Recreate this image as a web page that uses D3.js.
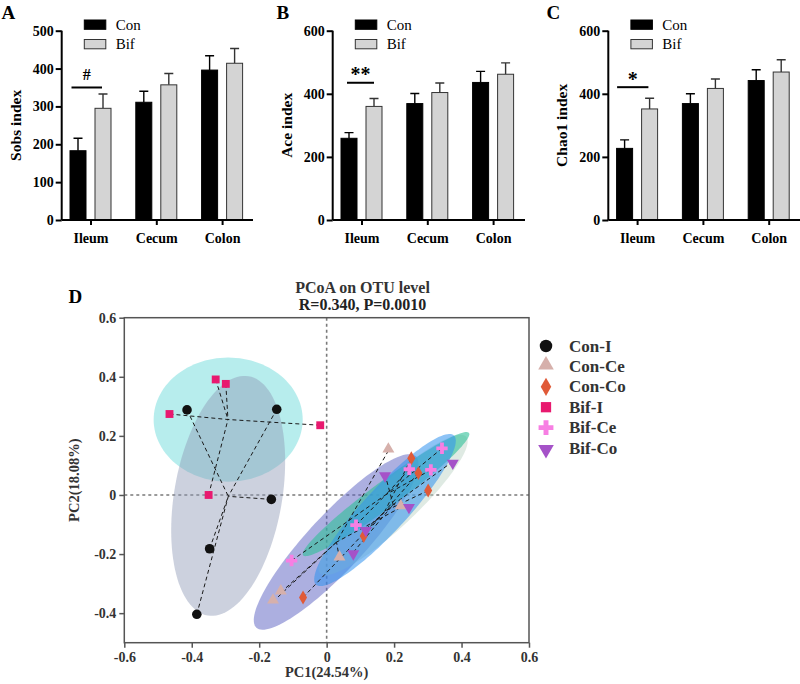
<!DOCTYPE html>
<html><head><meta charset="utf-8">
<script src="https://cdn.jsdelivr.net/npm/d3@7"></script>
<style>body{margin:0;background:#fff}svg{display:block}</style>
</head><body>
<svg id="c" width="800" height="684"></svg>
<script>
// ---------- DATA ----------
const categories = ["Ileum", "Cecum", "Colon"];
const barGroups = ["Con", "Bif"];
// Panel A: Sobs index
const sobsCon = [183, 311, 396];
const sobsConErr = [33, 29, 38];
const sobsBif = [295, 357, 414];
const sobsBifErr = [38, 30, 39];
const sobsTicks = [0, 100, 200, 300, 400, 500];
// Panel B: Ace index
const aceCon = [259, 369, 436];
const aceConErr = [18, 32, 35];
const aceBif = [360, 404, 462];
const aceBifErr = [25, 30, 36];
const aceTicks = [0, 200, 400, 600];
// Panel C: Chao1 index
const chaoCon = [227, 369, 442];
const chaoConErr = [27, 31, 34];
const chaoBif = [352, 417, 469];
const chaoBifErr = [34, 30, 39];
const chaoTicks = [0, 200, 400, 600];
// significance marks (Ileum), height in data units
const sigLabels = ["#", "**", "*"];
const sigLevels = [350, 435, 421];

// Panel D: PCoA
const pcoaGroups = ["Con-I", "Con-Ce", "Con-Co", "Bif-I", "Bif-Ce", "Bif-Co"];
const conI  = [[-0.414, 0.288], [-0.148, 0.290], [-0.164, -0.015], [-0.347, -0.182], [-0.385, -0.404]];
const conCe = [[0.183, 0.150], [0.220, -0.042], [0.038, -0.215], [-0.136, -0.330], [-0.159, -0.361]];
const conCo = [[0.251, 0.124], [0.272, 0.074], [0.301, 0.015], [0.110, -0.139], [-0.070, -0.347]];
const bifI  = [[-0.466, 0.274], [-0.329, 0.391], [-0.299, 0.376], [-0.019, 0.236], [-0.350, 0.000]];
const bifCe = [[0.342, 0.158], [0.245, 0.087], [0.309, 0.085], [0.087, -0.102], [-0.104, -0.222]];
const bifCo = [[0.374, 0.113], [0.173, 0.070], [0.244, -0.037], [0.116, -0.115], [0.079, -0.194]];
// ellipses: [cx, cy, ux, uy, vx, vy] (centre + two conjugate semi-axis vectors, data units)
const ellConI  = [-0.292, -0.003, 0.0607, 0.405, 0.1577, -0.0308];
const ellBifI  = [-0.292, 0.255, 0.221, 0, 0, 0.210];
const ellConCe = [0.028, -0.159, 0.2364, 0.290, 0.0607, -0.0647];
const ellBifCe = [0.176, 0.003, 0.246, 0.207, 0.0228, -0.0356];
const ellConCo = [0.173, -0.051, 0.2044, 0.2525, 0.0480, -0.0500];
const ellBifCo = [0.197, -0.034, 0.2166, 0.2312, 0.0444, -0.0546];
const pcoaTicks = [-0.6, -0.4, -0.2, 0, 0.2, 0.4, 0.6];
const pcoaYTicks = [-0.4, -0.2, 0, 0.2, 0.4, 0.6];

// ---------- DRAW ----------
const svg = d3.select("#c");
const FONT = "'Liberation Serif','Times New Roman',serif";

const panels = [
  {label: "A", title: "Sobs index", con: sobsCon, conErr: sobsConErr, bif: sobsBif, bifErr: sobsBifErr, ticks: sobsTicks,
   ax: 61.7, axEnd: 253, lx: 1.5, ly: 19.3, titleX: 21, sigL: -6.5, sigR: -1},
  {label: "B", title: "Ace index", con: aceCon, conErr: aceConErr, bif: aceBif, bifErr: aceBifErr, ticks: aceTicks,
   ax: 332.7, axEnd: 525, lx: 276.5, ly: 18.5, titleX: 292, sigL: -2, sigR: 0},
  {label: "C", title: "Chao1 index", con: chaoCon, conErr: chaoConErr, bif: chaoBif, bifErr: chaoBifErr, ticks: chaoTicks,
   ax: 608.3, axEnd: 800, lx: 546.5, ly: 18.5, titleX: 567, sigL: -7.5, sigR: -1.2}
];

const yTop = 30.7, yBase = 220;
panels.forEach((p, i) => {
  const g = svg.append("g");
  const yMax = d3.max(p.ticks);
  const y = d3.scaleLinear().domain([0, yMax]).range([yBase, yTop]);
  const x = d3.scalePoint().domain(categories).range([p.ax + 28.8, p.ax + 28.8 + 2 * 65.8]);
  const off = 12.5, bw = 16;

  const rows = [];
  categories.forEach((c, j) => {
    rows.push({cat: c, grp: "Con", v: p.con[j], e: p.conErr[j]});
    rows.push({cat: c, grp: "Bif", v: p.bif[j], e: p.bifErr[j]});
  });
  const cx = d => x(d.cat) + (d.grp === "Con" ? -off : off);
  g.selectAll(".eb").data(rows).join("path")
    .attr("d", d => `M${cx(d)},${y(d.v)}V${y(d.v + d.e)}M${cx(d) - 4.5},${y(d.v + d.e)}H${cx(d) + 4.5}`)
    .attr("stroke", d => d.grp === "Con" ? "#000" : "#333").attr("stroke-width", 1.4).attr("fill", "none");
  g.selectAll(".bar").data(rows).join("rect")
    .attr("x", d => cx(d) - bw / 2).attr("width", bw)
    .attr("y", d => y(d.v)).attr("height", d => y(0) - y(d.v))
    .attr("fill", d => d.grp === "Con" ? "#000" : "#d4d4d4")
    .attr("stroke", d => d.grp === "Con" ? "#000" : "#333").attr("stroke-width", 1);

  const ya = g.append("g").attr("transform", `translate(${p.ax},0)`)
    .call(d3.axisLeft(y).tickValues(p.ticks).tickSize(6).tickPadding(2).tickFormat(d3.format("d")));
  ya.select(".domain").attr("stroke", "#000").attr("stroke-width", 2).attr("d", `M0,${yBase}V${yTop}`);
  ya.selectAll(".tick line").attr("stroke", "#000").attr("stroke-width", 2);
  ya.selectAll("text").attr("font-family", FONT).attr("font-weight", "bold").attr("font-size", 14).attr("fill", "#000");

  const xa = g.append("g").attr("transform", `translate(0,${yBase})`)
    .call(d3.axisBottom(x).tickSize(5).tickPadding(8));
  xa.select(".domain").attr("stroke", "#000").attr("stroke-width", 2).attr("d", `M${p.ax},0H${p.axEnd}`);
  xa.selectAll(".tick line").attr("stroke", "#000").attr("stroke-width", 2);
  xa.selectAll("text").attr("font-family", FONT).attr("font-weight", "bold").attr("font-size", 14).attr("fill", "#000");

  g.append("text").attr("transform", `translate(${p.titleX},${(yBase + yTop) / 2}) rotate(-90)`)
    .attr("text-anchor", "middle").attr("font-family", FONT).attr("font-weight", "bold").attr("font-size", 15.5)
    .text(p.title);

  g.append("text").attr("x", p.lx).attr("y", p.ly).attr("font-family", FONT).attr("font-weight", "bold")
    .attr("font-size", 19).text(p.label);

  const lg = g.append("g");
  barGroups.forEach((gr, k) => {
    lg.append("rect").attr("x", p.ax + 22.6).attr("y", 20 + k * 19.5).attr("width", 21.5).attr("height", 9.3)
      .attr("fill", gr === "Con" ? "#000" : "#d4d4d4").attr("stroke", gr === "Con" ? "#000" : "#333").attr("stroke-width", 1);
    lg.append("text").attr("x", p.ax + 54).attr("y", 29.5 + k * 19.5).attr("font-family", FONT)
      .attr("font-size", 15).text(gr);
  });

  const sx0 = x(categories[0]) - off + p.sigL, sx1 = x(categories[0]) + off + p.sigR;
  const sy = y(sigLevels[i]);
  g.append("line").attr("x1", sx0).attr("x2", sx1).attr("y1", sy).attr("y2", sy)
    .attr("stroke", "#000").attr("stroke-width", 2);
  const isHash = sigLabels[i] === "#";
  g.append("text").attr("x", (sx0 + sx1) / 2).attr("y", isHash ? sy - 7.3 : sy - 1.5)
    .attr("text-anchor", "middle").attr("font-family", FONT).attr("font-weight", "bold")
    .attr("font-size", isHash ? 16 : 20).text(sigLabels[i]);
});

// ---------- PANEL D ----------
const X0 = 124.3, X1 = 529, Y0 = 317.7, Y1 = 642.7;
const xs = d3.scaleLinear().domain([-0.6, 0.6]).range([X0, X1]);
const ys = d3.scaleLinear().domain([-0.5, 0.6]).range([Y1, Y0]);
const gD = svg.append("g");

const fmt = d => d === 0 ? "0" : (d < 0 ? "-" : "") + Math.abs(d).toFixed(1);

gD.append("line").attr("x1", xs(0)).attr("x2", xs(0)).attr("y1", Y0).attr("y2", Y1)
  .attr("stroke", "#7a7a7a").attr("stroke-width", 1.6).attr("stroke-dasharray", "3,3");
gD.append("line").attr("x1", X0).attr("x2", X1).attr("y1", ys(0)).attr("y2", ys(0))
  .attr("stroke", "#7a7a7a").attr("stroke-width", 1.6).attr("stroke-dasharray", "3,3");

const groupData = [
  {name: "Con-I",  pts: conI,  ell: ellConI,  color: "#111111", sym: d3.symbolCircle,   size: 72, rot: 0,   efill: "#8f98b6", eop: 0.45},
  {name: "Con-Ce", pts: conCe, ell: ellConCe, color: "#d6b0ab", sym: d3.symbolTriangle, size: 62, rot: 0,   efill: "#5a5fc2", eop: 0.5},
  {name: "Con-Co", pts: conCo, ell: ellConCo, color: "#e05a38", sym: d3.symbolDiamond,  size: 56, rot: 0,   efill: "#2f92ee", eop: 0.6},
  {name: "Bif-I",  pts: bifI,  ell: ellBifI,  color: "#e8196f", sym: d3.symbolSquare,   size: 62, rot: 0,   efill: "#6fdcdc", eop: 0.5},
  {name: "Bif-Ce", pts: bifCe, ell: ellBifCe, color: "#f77fe3", sym: d3.symbolCross,    size: 72, rot: 0,   efill: "#2fbf98", eop: 0.6},
  {name: "Bif-Co", pts: bifCo, ell: ellBifCo, color: "#a552c8", sym: d3.symbolTriangle, size: 62, rot: 180, efill: "#b8d0c0", eop: 0.45}
];

const ellOrder = ["Bif-I", "Con-I", "Con-Ce", "Bif-Co", "Bif-Ce", "Con-Co"];
const line = d3.line().curve(d3.curveLinearClosed);
ellOrder.forEach(n => {
  const gd = groupData.find(g => g.name === n);
  const [cx, cy, ux, uy, vx, vy] = gd.ell;
  const pts = d3.range(0, 120).map(k => {
    const t = k / 120 * 2 * Math.PI;
    return [xs(cx + ux * Math.cos(t) + vx * Math.sin(t)), ys(cy + uy * Math.cos(t) + vy * Math.sin(t))];
  });
  gD.append("path").attr("d", line(pts)).attr("fill", gd.efill).attr("fill-opacity", gd.name === "Con-Co" ? 0.55 : gd.eop).attr("stroke", "none");
});

groupData.forEach(gd => {
  const mx = d3.mean(gd.pts, p => p[0]), my = d3.mean(gd.pts, p => p[1]);
  gD.selectAll(null).data(gd.pts).join("line")
    .attr("x1", p => xs(p[0])).attr("y1", p => ys(p[1]))
    .attr("x2", xs(mx)).attr("y2", ys(my))
    .attr("stroke", "#1a1a1a").attr("stroke-width", 1).attr("stroke-dasharray", "4,3");
});
groupData.forEach(gd => {
  gD.selectAll(null).data(gd.pts).join("path")
    .attr("d", d3.symbol().type(gd.sym).size(gd.size))
    .attr("transform", p => `translate(${xs(p[0])},${ys(p[1]) + (gd.rot ? 1.5 : (gd.sym === d3.symbolTriangle ? -1.5 : 0))}) rotate(${gd.rot})`)
    .attr("fill", gd.color);
});

gD.append("rect").attr("x", X0).attr("y", Y0).attr("width", X1 - X0).attr("height", Y1 - Y0)
  .attr("fill", "none").attr("stroke", "#555").attr("stroke-width", 1.5);

const xaD = gD.append("g").attr("transform", `translate(0,${Y1})`)
  .call(d3.axisBottom(xs).tickValues(pcoaTicks).tickSize(5).tickPadding(4).tickFormat(fmt));
const yaD = gD.append("g").attr("transform", `translate(${X0},0)`)
  .call(d3.axisLeft(ys).tickValues(pcoaYTicks).tickSize(5).tickPadding(3).tickFormat(fmt));
[xaD, yaD].forEach(a => {
  a.select(".domain").remove();
  a.selectAll(".tick line").attr("stroke", "#555").attr("stroke-width", 1.5);
  a.selectAll("text").attr("font-family", FONT).attr("font-weight", "bold").attr("font-size", 14).attr("fill", "#333");
});

gD.append("text").attr("x", (X0 + X1) / 2).attr("y", 677).attr("text-anchor", "middle")
  .attr("font-family", FONT).attr("font-weight", "bold").attr("font-size", 14.5).attr("fill", "#333").text("PC1(24.54%)");
gD.append("text").attr("transform", `translate(79,${(Y0 + Y1) / 2}) rotate(-90)`).attr("text-anchor", "middle")
  .attr("font-family", FONT).attr("font-weight", "bold").attr("font-size", 14.5).attr("fill", "#333").text("PC2(18.08%)");

gD.append("text").attr("x", 362.5).attr("y", 292.7).attr("text-anchor", "middle")
  .attr("font-family", FONT).attr("font-weight", "bold").attr("font-size", 16).attr("fill", "#333").text("PCoA on OTU level");
gD.append("text").attr("x", 362.5).attr("y", 310).attr("text-anchor", "middle")
  .attr("font-family", FONT).attr("font-weight", "bold").attr("font-size", 16).attr("fill", "#222").text("R=0.340, P=0.0010");
gD.append("text").attr("x", 68.5).attr("y", 303).attr("font-family", FONT).attr("font-weight", "bold")
  .attr("font-size", 19).text("D");

groupData.forEach((gd, k) => {
  const ly = 346 + k * 20.4;
  gD.append("path").attr("d", d3.symbol().type(gd.sym).size(gd.size * 1.7))
    .attr("transform", `translate(546,${ly + (gd.rot ? 1.5 : (gd.sym === d3.symbolTriangle ? -1.5 : 0))}) rotate(${gd.rot})`)
    .attr("fill", gd.color);
  gD.append("text").attr("x", 569).attr("y", ly + 5.5).attr("font-family", FONT).attr("font-weight", "bold")
    .attr("font-size", 17).attr("fill", "#333").text(gd.name);
});
</script>
</body></html>
